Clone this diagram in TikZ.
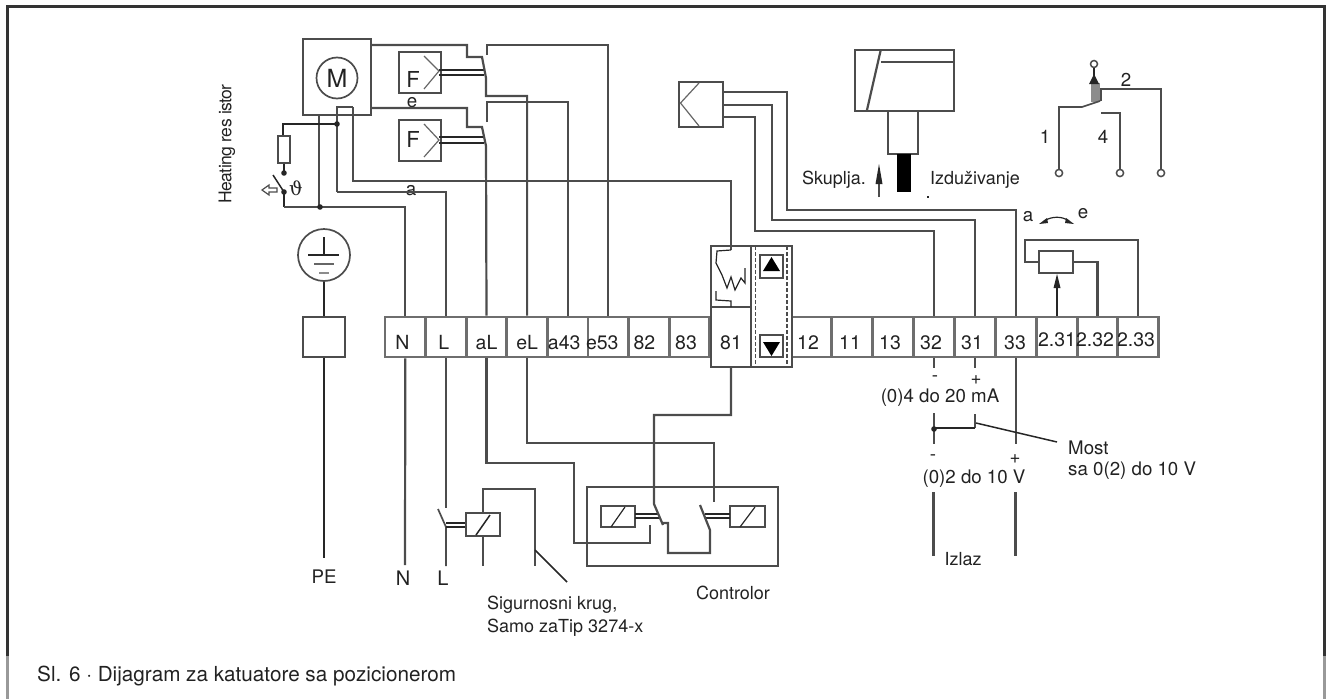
\documentclass[tikz,border=0pt]{standalone}
\usepackage{fontspec}
\setmainfont{TeX Gyre Heros}
\newfontfamily\thfont{DejaVu Serif}
\definecolor{wirec}{HTML}{4c4c4c}
\definecolor{stripc}{HTML}{6e6e6e}
\definecolor{txt}{HTML}{222222}
\newcommand{\tl}[2]{\raisebox{-12pt}[0pt][0pt]{\kern#1pt #2}}
\newcommand{\tm}[2]{\raisebox{-9pt}[0pt][0pt]{\kern#1pt #2}}
\tikzset{
  wire/.style={draw=wirec,line width=2.2pt,line join=miter},
  thinw/.style={draw=black!85,line width=1.2pt},
  term/.style={draw=stripc,line width=2.8pt,minimum width=40.6pt,minimum height=40pt,inner sep=0pt,text=txt,font=\fontsize{19.5}{21}\selectfont},
  blk/.style={draw=wirec,line width=2pt,inner sep=0pt,text=txt},
  lab/.style={inner sep=0pt,text=txt,font=\fontsize{18.7}{21}\selectfont},
  lableft/.style={lab,anchor=west},
  dotn/.style={fill=black!85,draw=none},
}
\begin{document}
\begin{tikzpicture}[x=1pt,y=-1pt]
\useasboundingbox (0,0) rectangle (1333,699);
% frame
\draw[line width=3pt,color=black!80] (7.5,656) -- (7.5,6.5) -- (1324,6.5) -- (1324,656);
\draw[line width=3pt,color=black!40] (7.5,656) -- (7.5,699);
\draw[line width=3pt,color=black!40] (1324,656) -- (1324,699);
% terminal strip
\node[term] (tN) at (405.3,337) {\tl{-6}{N}};
\node[term] (tL) at (445.9,337) {\tl{-4}{L}};
\node[term] (taL) at (486.5,337) {\tl{0}{aL}};
\node[term] (teL) at (527.1,337) {\tl{0}{eL}};
\node[term] (ta) at (567.7,337) {\tl{-7}{a43}};
\node[term] (te) at (608.3,337) {\tl{-12}{e53}};
\node[term] (t82) at (648.9,337) {\tl{-9}{82}};
\node[term] (t83) at (689.5,337) {\tl{-7}{83}};
\node[term] (t12) at (811.5,337) {\tl{-7}{12}};
\node[term] (t11) at (852,337) {\tl{-4}{11}};
\node[term] (t13) at (893,337) {\tl{-6}{13}};
\node[term] (t32) at (934,337) {\tl{-6}{32}};
\node[term] (t31) at (975,337) {\tl{-6}{31}};
\node[term] (t33) at (1016,337) {\tl{-2}{33}};
\node[term] (t231) at (1057,337) {\tm{0}{2.31}};
\node[term] (t232) at (1097.5,337) {\tm{-5}{2.32}};
\node[term] (t233) at (1138,337) {\tm{-4}{2.33}};
% 81 and positioner
\node[blk,fill=white,minimum width=40pt,minimum height=60pt,font=\fontsize{19.5}{21}\selectfont] (t81) at (731,337) {\raisebox{-12pt}[0pt][0pt]{81}};
\node[blk,minimum width=40pt,minimum height=61pt] (relbox) at (731,276.5) {};
\node[blk,fill=white,minimum width=40.5pt,minimum height=121pt] (dbox) at (771.3,306.5) {};
\draw[draw=wirec,line width=1.3pt,dashed,dash pattern=on 4pt off 2pt] (755.5,246) -- (755.5,367);
\draw[draw=wirec,line width=1.3pt,dashed,dash pattern=on 4pt off 2pt] (787,246) -- (787,367);
\node[blk,minimum width=23pt,minimum height=23pt] (upb) at (771.5,266.5) {};
\fill[black] (771.5,257) -- (780,271) -- (763,271) -- cycle;
\node[blk,minimum width=23pt,minimum height=22pt] (dnb) at (771.5,346) {};
\fill[black] (771.5,356) -- (780,342) -- (763,342) -- cycle;
% motor
\node[blk,minimum width=68pt,minimum height=76pt] (mot) at (337,77) {};
\node[draw=wirec,line width=1.7pt,circle,minimum size=41pt,inner sep=0pt,text=txt,font=\fontsize{25}{27}\selectfont] (mm) at (337,78) {M};
% end switches
\node[blk,minimum width=42pt,minimum height=41pt] (f1) at (420,72.5) {};
\node[lab,font=\fontsize{22}{24}\selectfont] (f1t) at (413,79) {F};
\draw[thinw,draw=black!60] (424,56) -- (439,71) -- (424,89);
\node[blk,minimum width=42pt,minimum height=41pt] (f2) at (420,140.5) {};
\node[lab,font=\fontsize{22}{24}\selectfont] (f2t) at (413,139) {F};
\draw[thinw,draw=black!60] (424,124) -- (439,140) -- (424,157);
\draw[thinw] (439,70) -- (484,70);
\draw[thinw] (439,75) -- (484,75);
\draw[thinw] (439,137) -- (484,137);
\draw[thinw] (439,143) -- (484,143);
\node[lab] (le) at (412,103) {e};
\node[lab] (la) at (411,191) {a};
% motor wiring
\draw[wire] (371,45) -- (467,45) -- (467,57) -- (482,57) -- (486,78) -- (486,96) -| (teL.north);
\draw[wire] (487,55) -- (487,45) -| (te.north);
\draw[wire] (371,108) -- (467,108) -- (467,127) -- (482,127) -- (486,146) -- (taL.north);
\draw[wire] (487,122) -- (487,102) -| (ta.north);
\draw[wire] (319,115) -- (319,207);
\draw[wire,line width=1.6pt] (353,107) -- (337,107) -- (337,192);
\draw[wire,line width=1.6pt] (353,107) -- (353,181) -- (731,181) -- (731,250);
\draw[wire] (337,192) -| (tL.north);
% heater
\draw[thinw,line width=1.5pt] (337,124) -- (283,124) -- (283,136);
\node[blk,line width=1.5pt,minimum width=12pt,minimum height=27pt] (res) at (284,149.5) {};
\draw[thinw,line width=1.5pt] (res.south) -- (284,173);
\fill[dotn] (337,124) circle (2.8);
\fill[dotn] (284,173) circle (2.8);
\fill[dotn] (284,192) circle (2.8);
\draw[thinw,line width=1.5pt] (273,175) -- (284,192);
\draw[thinw,line width=1.5pt] (284,192) -- (284,207);
\draw[wire] (284,207) -| (tN.north);
\fill[dotn] (320,207) circle (2.8);
\draw[draw=wirec,line width=1.2pt] (262,190) -- (269,185) -- (269,188) -- (277,188) -- (277,192) -- (269,192) -- (269,195) -- cycle;
\node[lab,font=\fontsize{19}{20}\selectfont\thfont] (theta) at (296,188) {ϑ};
\node[lab,rotate=90,font=\fontsize{17.5}{19}\selectfont\addfontfeatures{LetterSpace=-3}] (heat) at (227,144) {Heating res istor};
% ground
\node[draw=wirec,line width=1.7pt,circle,minimum size=52pt,inner sep=0pt] (gnd) at (324,255) {};
\draw[thinw] (324,237) -- (324,255);
\draw[thinw] (308,255) -- (339,255);
\draw[thinw,draw=black!60] (314,264) -- (334,264);
\draw[thinw,draw=black!45] (319,273) -- (329,273);
\node[blk,minimum width=42pt,minimum height=40pt] (pebox) at (324,337) {};
\draw[thinw,line width=1.6pt] (gnd.south) -- (pebox.north);
\coordinate (peend) at (324,558);
\draw[thinw,line width=1.6pt] (pebox.south) -- (peend);
\node[lab] (lpe) at (324,577) {PE};
\node[lab,font=\fontsize{20}{22}\selectfont] (ln) at (403,578) {N};
\node[lab,font=\fontsize{20}{22}\selectfont] (ll) at (443,578) {L};
% position sensor
\node[blk,minimum width=44pt,minimum height=45pt] (sens) at (701,104.5) {};
\draw[thinw,draw=black!60] (699,83) -- (680.5,103) -- (699,126);
\draw[wire] (sens.east |- 0,92) -- (787,92) -- (787,210) -| (t33.north);
\draw[wire] (sens.east |- 0,105) -- (772,105) -- (772,220) -| (t31.north);
\draw[wire] (sens.east |- 0,117) -- (755,117) -- (755,231) -| (t32.north);
% relay inside 81
\draw[thinw] (731,250) -- (717,251) -- (716,263) -- (722,275) -- (727,288) -- (731,277) -- (735,290) -- (741,278) -- (745,283) -- (745,268);
\draw[thinw] (716,291) -- (716,300) -- (731,301) -- (731,307);
% actuator
\node[blk,minimum width=99pt,minimum height=61pt] (act) at (904,80.5) {};
\draw[wire] (881,62) -- (act.east |- 0,62);
\draw[wire] (880.5,51) -- (867,110);
\node[blk,minimum width=30pt,minimum height=43pt] (neck) at (903,132.5) {};
\node[fill=black,inner sep=0pt,minimum width=14pt,minimum height=38pt] (rod) at (904,173) {};
\draw[wire,line width=1.6pt] (879,197) -- (879,175);
\fill[black!85] (879,164) -- (882.5,184) -- (875.5,184) -- cycle;
\node[lab,font=\fontsize{18}{20}\selectfont] (lsk) at (834,180) {Skuplja.};
\node[lab,font=\fontsize{18}{20}\selectfont] (liz) at (975,180) {Izduživanje};
\fill[black!85] (926.5,196) rectangle (929,198);
% limit contact
\draw[draw=wirec,line width=1.5pt] (1094,64) circle (3.5);
\draw[draw=wirec,line width=1.5pt] (1059,173) circle (3.6);
\draw[draw=wirec,line width=1.5pt] (1120,173) circle (3.6);
\draw[draw=wirec,line width=1.5pt] (1161,173) circle (3.6);
\fill[black!45] (1091,83) rectangle (1100,102);
\draw[thinw] (1094,68) -- (1094,80);
\fill[black!85] (1094,74) -- (1099,84) -- (1089,84) -- cycle;
\draw[wire,line width=1.7pt] (1059,169) -- (1059,107) -- (1082,107) -- (1100,101);
\draw[wire,line width=1.7pt] (1101,113) -- (1120,113) -- (1120,169);
\draw[wire,line width=1.7pt] (1101,101) -- (1101,89) -- (1161,89) -- (1161,169);
\node[lab] (l2) at (1126,80) {2};
\node[lab] (l1) at (1045,137) {1};
\node[lab] (l4) at (1103,137) {4};
% potentiometer
\node[blk,minimum width=34pt,minimum height=22pt] (pot) at (1056,262) {};
\draw[wire] (pot.west) -- (1025,262) -- (1025,240) -| (t233.north);
\draw[wire] (pot.east) -| (t232.north);
\draw[thinw,line width=1.5pt] (t231.north) -- (1057,285);
\fill[black!85] (1057,274) -- (1060.5,288) -- (1053.5,288) -- cycle;
\node[lab] (pa) at (1028,217) {a};
\node[lab] (pe) at (1083,214) {e};
\draw[thinw] (1044,221) .. controls (1052,216) and (1062,216) .. (1069,221);
\fill[black!85] (1039,224) -- (1047,218) -- (1048,223) -- cycle;
\fill[black!85] (1074,224) -- (1066,218) -- (1065,223) -- cycle;
% outputs
\coordinate (a1) at (934,368); \coordinate (a2) at (934,413); \coordinate (a3) at (934,444);
\coordinate (b1) at (975,368); \coordinate (b2) at (975,414);
\coordinate (c1) at (1016,444);
\draw[wire] (t32.south) -- (a1);
\draw[wire] (t31.south) -- (b1);
\draw[wire] (t33.south) -- (c1);
\draw[wire] (a2) -- (a3);
\draw[wire] (b2) -- (975,428);
\draw[thinw,line width=1.6pt] (975,428) -- (934,428);
\fill[dotn] (934,429) circle (2.8);
\draw[thinw,line width=1.5pt] (976,423) -- (1057,442);
\draw[wire] (933.5,492) -- (933.5,556);
\draw[wire] (1015.5,492) -- (1015.5,556);
\node[lab] (m1) at (935,379) {-};
\node[lab] (p1) at (976,380) {+};
\node[lab] (l420) at (940,398) {(0)4 do 20 mA};
\node[lab] (m2) at (933,458) {-};
\node[lab] (p2) at (1015,459) {+};
\node[lab] (l210) at (974,479) {(0)2 do 10 V};
\node[lableft] (most) at (1068,448) {Most};
\node[lableft] (most2) at (1068,471) {sa 0(2) do 10 V};
\node[lab,font=\fontsize{18}{20}\selectfont] (izl) at (963,559) {Izlaz};
% lower left
\coordinate (ne) at (405,565);
\draw[wire] (tN.south) -- (ne);
\coordinate (le1) at (445.9,508);
\draw[wire] (tL.south) -- (le1);
\draw[wire,line width=1.7pt] (438,509) -- (446,527) -- (446,566);
\draw[thinw] (446,523) -- (466,523);
\draw[thinw] (446,527) -- (466,527);
\node[blk,minimum width=34pt,minimum height=23pt] (srel) at (483,524.5) {};
\draw[thinw,line width=1.5pt] (476,535) -- (490,515);
\draw[wire,line width=1.8pt] (srel.north) -- (483,489) -- (535,489) -- (535,566);
\draw[wire,line width=1.8pt] (srel.south) -- (483,566);
\draw[thinw,line width=1.5pt] (535,550) -- (567,582);
\node[lableft,font=\fontsize{18}{20}\selectfont] (sig1) at (487,605) {Sigurnosni krug,};
\node[lableft,font=\fontsize{18}{20}\selectfont] (sig2) at (487,628) {Samo zaTip 3274-x};
% controller
\node[blk,line width=1.8pt,minimum width=191pt,minimum height=79pt] (ctl) at (682.5,526.5) {};
\node[lab,font=\fontsize{18}{20}\selectfont] (lctl) at (733,593) {Controlor};
\node[blk,line width=1.6pt,minimum width=34pt,minimum height=21pt] (cl) at (618,516.5) {};
\node[blk,line width=1.6pt,minimum width=35pt,minimum height=21pt] (cr) at (747.5,516.5) {};
\draw[thinw] (611,527) -- (625,507);
\draw[thinw] (740,527) -- (755,507);
\draw[thinw] (635,514) -- (659,514);
\draw[thinw] (635,518) -- (659,518);
\draw[thinw] (705,514) -- (730,514);
\draw[thinw] (705,518) -- (730,518);
\draw[wire] (taL.south) -- (486.5,463) -- (574,463) -- (574,543) -- (650,543) -- (650,525);
\draw[wire] (teL.south) -- (527.1,443) -- (714,443) -- (714,502);
\draw[wire] (t81.south) -- (731,415) -- (654,415) -- (654,504) -- (663,525);
\draw[wire] (663,523) -- (668,523) -- (668,553) -- (710,553) -- (710,530) -- (700,505);
% caption
\node[lableft,font=\fontsize{20.7}{23}\selectfont] (cap) at (37,676) {Sl. 6 · Dijagram za katuatore sa pozicionerom};
\end{tikzpicture}
\end{document}
